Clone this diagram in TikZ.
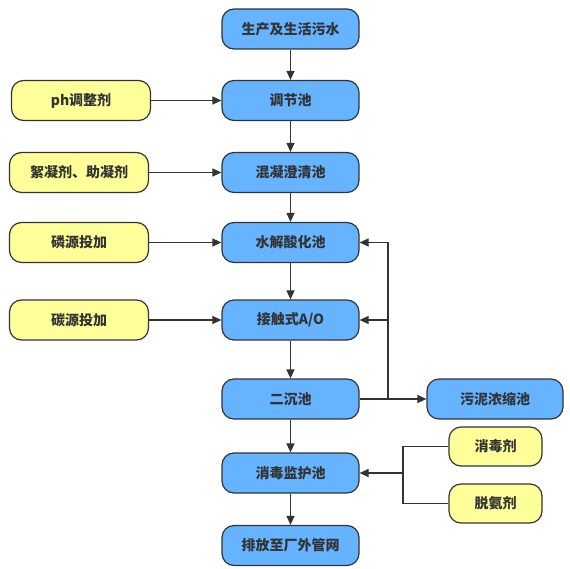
\documentclass[tikz,border=0pt]{standalone}
\usepackage{fontspec}
\usepackage{tikz}
\usetikzlibrary{arrows.meta}
\newfontfamily\cjk{Noto Sans CJK SC}
\definecolor{poolblue}{HTML}{66B3FF}
\definecolor{addyellow}{HTML}{FFFF99}
\definecolor{edgegray}{HTML}{333333}
\tikzset{
  box/.style={draw=edgegray,line width=1.2pt,rounded corners=12pt,minimum height=40pt,
    inner sep=0pt,text=edgegray,font=\cjk\bfseries\fontsize{14}{16}\selectfont},
  pool/.style={box,fill=poolblue,minimum width=137pt},
  agent/.style={box,fill=addyellow,minimum width=139pt},
  smallagent/.style={box,fill=addyellow,minimum width=93pt,minimum height=39pt},
  flow/.style={draw=edgegray,line width=1.2pt,-{Triangle[length=9pt,width=8pt]}},
  pipe/.style={draw=edgegray,line width=1.2pt}
}

\begin{document}
\begin{tikzpicture}[x=1pt,y=-1pt]
\useasboundingbox (0,0) rectangle (570,569);
\node [pool] (src) at (290.5,29) {生产及生活污水};
\node [pool] (tiaojie) at (290.5,100.5) {调节池};
\node [pool] (hunning) at (290.5,172.5) {混凝澄清池};
\node [pool] (shuijie) at (290.5,242.5) {水解酸化池};
\node [pool] (ao) at (290.5,320) {接触式A/O};
\node [pool] (erchen) at (290.5,399) {二沉池};
\node [pool] (xiaodu) at (290.5,473) {消毒监护池};
\node [pool] (paifang) at (290.5,545.5) {排放至厂外管网};
\node [pool,minimum width=136pt] (wuni) at (495,399) {污泥浓缩池};
\node [agent] (ph) at (81,100.5) {ph调整剂};
\node [agent] (xuning) at (79,172.5) {絮凝剂、助凝剂};
\node [agent] (linyuan) at (79,242.5) {磷源投加};
\node [agent] (tanyuan) at (79,320) {碳源投加};
\node [smallagent] (xiaoduji) at (495.5,446.5) {消毒剂};
\node [smallagent] (tuoanji) at (495.5,503.5) {脱氨剂};
% main line
\draw [flow] (src) -- (tiaojie);
\draw [flow] (tiaojie) -- (hunning);
\draw [flow] (hunning) -- (shuijie);
\draw [flow] (shuijie) -- (ao);
\draw [flow] (ao) -- (erchen);
\draw [flow] (erchen) -- (xiaodu);
\draw [flow] (xiaodu) -- (paifang);
% dosing
\draw [flow] (ph) -- (tiaojie);
\draw [flow] (xuning) -- (hunning);
\draw [flow] (linyuan) -- (shuijie);
\draw [flow] (tanyuan) -- (ao);
% sludge return
\coordinate (split) at (388,399);
\draw [flow] (erchen) -- (wuni);
\draw [flow] (split) |- (shuijie.east);
\draw [flow] (split |- ao.east) -- (ao.east);
% disinfection
\coordinate (join) at (403,473);
\draw [pipe] (xiaoduji.west) -| (join);
\draw [pipe] (tuoanji.west) -| (join);
\draw [flow] (join) -- (xiaodu.east);
\end{tikzpicture}
\end{document}
